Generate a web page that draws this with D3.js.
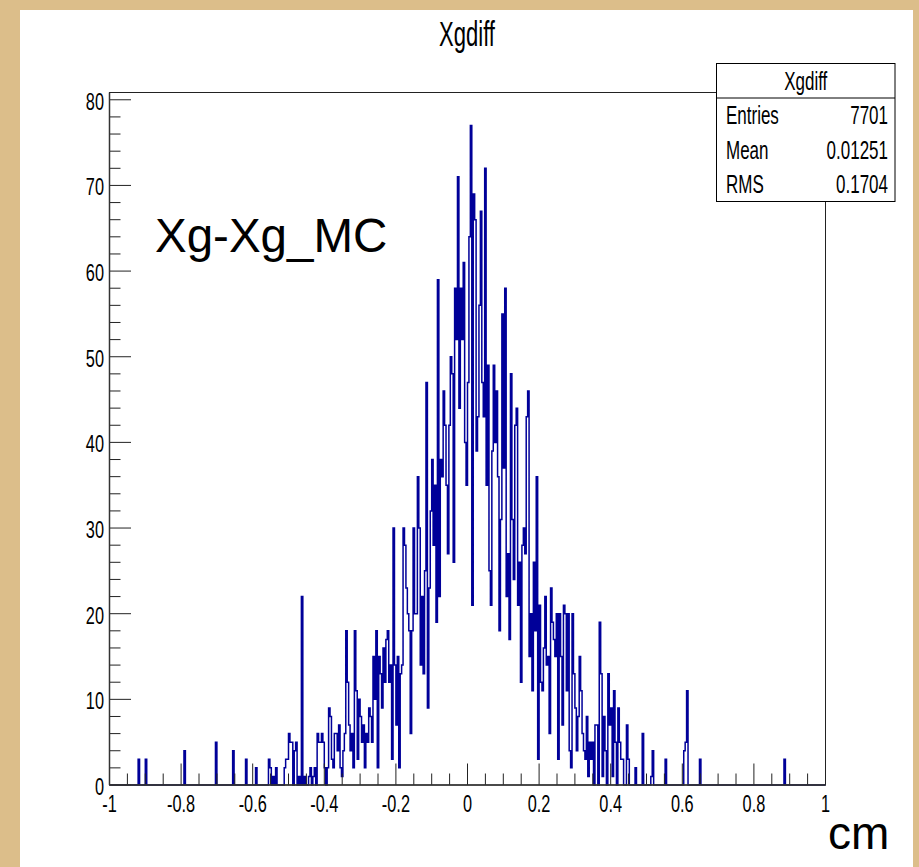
<!DOCTYPE html>
<html>
<head>
<meta charset="utf-8">
<script src="https://cdn.jsdelivr.net/npm/d3@7"></script>
<style>
  html, body { margin: 0; padding: 0; background: #dcbe8a; }
  svg { display: block; }
</style>
</head>
<body>
<svg id="chart"></svg>
<script>
// Histogram binning (ROOT TH1: 500 bins from -1 to 1)
const binLo = -1;
const binHi = 1;
const nBins = 500;

// Dense part of the histogram, one count per bin starting at bin index 119 (x = -0.524)
const coreFirstBin = 119;
const coreCounts = [
  0, 0, 0, 2, 3, 3, 6, 5, 5, 0, 4, 5, 0, 1, 0, 22, 0, 1, 0, 0,
  1, 2, 0, 1, 2, 0, 6, 5, 5, 6, 5, 2, 0, 2, 9, 8, 3, 2, 6, 6,
  4, 7, 2, 1, 4, 6, 18, 12, 7, 4, 6, 2, 18, 11, 3, 10, 8, 5, 7, 2,
  6, 5, 9, 8, 5, 15, 10, 18, 2, 15, 13, 9, 16, 12, 17, 18, 12, 14, 3, 30,
  14, 7, 15, 2, 13, 14, 30, 28, 23, 20, 18, 6, 18, 30, 20, 20, 36, 30, 14, 22,
  13, 25, 47, 9, 23, 32, 38, 28, 35, 19, 59, 22, 38, 36, 46, 42, 35, 27, 42, 50,
  48, 26, 58, 52, 71, 44, 58, 52, 61, 40, 35, 47, 64, 77, 21, 69, 66, 39, 43, 56,
  67, 47, 43, 72, 35, 49, 25, 21, 39, 49, 40, 46, 36, 18, 31, 55, 37, 58, 22, 27,
  17, 48, 31, 24, 42, 44, 21, 26, 12, 28, 30, 27, 43, 46, 15, 20, 11, 26, 18, 36,
  3, 21, 12, 11, 16, 22, 14, 15, 6, 23, 19, 17, 15, 20, 3, 20, 15, 7, 21, 20,
  11, 20, 4, 2, 20, 13, 9, 4, 8, 15, 11, 6, 4, 3, 8, 1, 5, 3, 5, 0,
  7, 7, 0, 19, 13, 1, 8, 4, 0, 13, 7, 9, 1, 11, 5, 0, 9, 5, 3, 3,
  0, 0, 7, 3, 0, 0, 0, 0, 2, 0, 0, 0, 0, 6, 0, 0, 0, 0, 0, 1, 4
];

// Isolated entries in the tails (bin centre, count)
const tailCentres = [-0.918, -0.898, -0.790, -0.702, -0.654, -0.618, -0.590, -0.554,
  -0.550, -0.542, -0.534, 0.554, 0.606, 0.610, 0.614, 0.650, 0.886];
const tailCounts = [3, 3, 4, 5, 4, 3, 2, 3, 2, 1, 2, 3, 4, 5, 11, 3, 3];

// Axis ticks
const xMajorTicks = [-1, -0.8, -0.6, -0.4, -0.2, 0, 0.2, 0.4, 0.6, 0.8, 1];
const yMajorTicks = [0, 10, 20, 30, 40, 50, 60, 70, 80];

// Stats box
const histName = 'Xgdiff';
const statLabels = ['Entries', 'Mean', 'RMS'];
const statValues = ['7701', '0.01251', '0.1704'];

// Build the full bin array
const binWidth = (binHi - binLo) / nBins;
const counts = new Array(nBins).fill(0);
coreCounts.forEach((c, i) => { counts[coreFirstBin + i] = c; });
tailCentres.forEach((x, i) => {
  counts[Math.floor((x - binLo) / binWidth)] = tailCounts[i];
});

const W = 919, H = 867;
const frame = { left: 109.5, right: 825.5, top: 92.5, bottom: 785 };
const lineColor = '#000099';
const narrow = 0.68; // ROOT's condensed helvetica look

const svg = d3.select('#chart').attr('width', W).attr('height', H);

// Canvas: tan border, white pad
svg.append('rect').attr('width', W).attr('height', H).attr('fill', '#dcbe8a');
svg.append('rect').attr('x', 20).attr('y', 10).attr('width', 893).attr('height', H - 10)
  .attr('fill', '#ffffff');

const xScale = d3.scaleLinear().domain([binLo, binHi]).range([frame.left, frame.right]);
const yScale = d3.scaleLinear().domain([0, d3.max(counts) * 1.05]).range([frame.bottom, frame.top]);

// small helper for squeezed text
function narrowText(x, y, str, size, anchor, squeeze = narrow) {
  return svg.append('text')
    .attr('transform', `translate(${x},${y}) scale(${squeeze},1)`)
    .attr('text-anchor', anchor)
    .attr('font-family', 'Liberation Sans, Arial, sans-serif')
    .attr('font-size', size)
    .attr('fill', '#000')
    .text(str);
}

// Histogram outline
const pts = counts.map((c, i) => [binLo + i * binWidth, c]);
pts.push([binHi, counts[nBins - 1]]);
const line = d3.line()
  .x((d) => xScale(d[0]))
  .y((d) => yScale(d[1]))
  .curve(d3.curveStepAfter);

svg.append('path')
  .datum(pts)
  .attr('d', line)
  .attr('fill', 'none')
  .attr('stroke', lineColor)
  .attr('stroke-width', 1.5);

// Frame (top and right)
svg.append('rect')
  .attr('x', frame.left).attr('y', frame.top)
  .attr('width', frame.right - frame.left).attr('height', frame.bottom - frame.top)
  .attr('fill', 'none').attr('stroke', '#222').attr('stroke-width', 1);

// X axis ticks, drawn inward
const xMinor = d3.range(-1, 1.0001, 0.05);
svg.append('g').selectAll('line').data(xMinor).enter().append('line')
  .attr('x1', (d) => xScale(d)).attr('x2', (d) => xScale(d))
  .attr('y1', frame.bottom)
  .attr('y2', (d) => frame.bottom - (Math.abs(d * 5 - Math.round(d * 5)) < 1e-6 ? 21.5 : 11.5))
  .attr('stroke', '#222').attr('stroke-width', 1);

xMajorTicks.forEach((t) => {
  narrowText(xScale(t), 812, String(t), 24, 'middle');
});

// Y axis ticks
const yMinor = d3.range(0, 80.001, 2);
svg.append('g').selectAll('line').data(yMinor).enter().append('line')
  .attr('y1', (d) => yScale(d)).attr('y2', (d) => yScale(d))
  .attr('x1', frame.left)
  .attr('x2', (d) => frame.left + (d % 10 === 0 ? 21.5 : 11))
  .attr('stroke', '#222').attr('stroke-width', 1);

yMajorTicks.forEach((t) => {
  narrowText(104, yScale(t) + 10, String(t), 24, 'end');
});

// Axis lines
svg.append('line').attr('x1', frame.left).attr('x2', frame.right)
  .attr('y1', frame.bottom).attr('y2', frame.bottom)
  .attr('stroke', '#333').attr('stroke-width', 1.5);
svg.append('line').attr('x1', frame.left).attr('x2', frame.left)
  .attr('y1', frame.top).attr('y2', frame.bottom)
  .attr('stroke', '#333').attr('stroke-width', 1.5);

// Title
narrowText(467, 46, histName, 35, 'middle', 0.63);

// Stats box
const box = { x: 716.5, y: 63.5, w: 178.5, h: 138 };
const rowH = box.h / 4;
svg.append('rect')
  .attr('x', box.x).attr('y', box.y).attr('width', box.w).attr('height', box.h)
  .attr('fill', '#fff').attr('stroke', '#000').attr('stroke-width', 1);
svg.append('line')
  .attr('x1', box.x).attr('x2', box.x + box.w)
  .attr('y1', box.y + rowH).attr('y2', box.y + rowH)
  .attr('stroke', '#000').attr('stroke-width', 1);
narrowText(box.x + box.w / 2, box.y + rowH / 2 + 9, histName, 25, 'middle');
statLabels.forEach((s, i) => {
  const yb = box.y + rowH * (i + 1.5) + 9;
  narrowText(box.x + 9.5, yb, s, 25, 'start');
  narrowText(box.x + box.w - 7, yb, statValues[i], 25, 'end');
});

// Annotation and unit label
svg.append('text')
  .attr('x', 155).attr('y', 252)
  .attr('font-family', 'Liberation Sans, Arial, sans-serif')
  .attr('font-size', 47.5)
  .text('Xg-Xg_MC');
svg.append('text')
  .attr('x', 828).attr('y', 849)
  .attr('font-family', 'Liberation Sans, Arial, sans-serif')
  .attr('font-size', 46)
  .text('cm');
</script>
</body>
</html>
